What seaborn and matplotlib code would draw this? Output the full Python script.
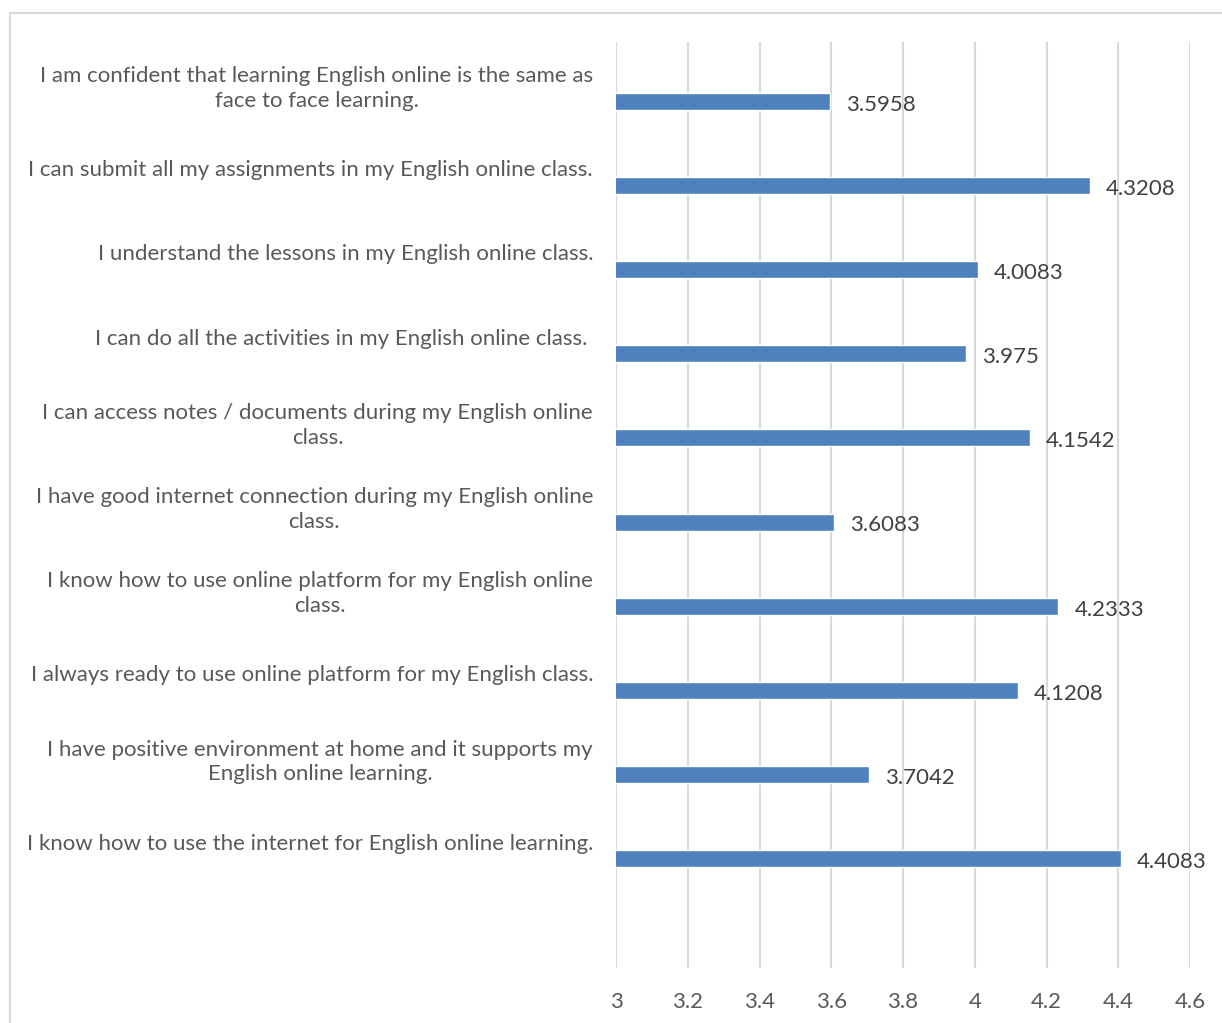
import matplotlib
matplotlib.use("Agg")
import matplotlib.pyplot as plt
import seaborn as sns
import pandas as pd
from matplotlib.patches import Rectangle

statements = [
    "I am confident that learning English online is the same as\nface to face learning.",
    "I can submit all my assignments in my English online class.",
    "I understand the lessons in my English online class.",
    "I can do all the activities in my English online class. ",
    "I can access notes / documents during my English online\nclass.",
    "I have good internet connection during my English online\nclass.",
    "I know how to use online platform for my English online\nclass.",
    "I always ready to use online platform for my English class.",
    "I have positive environment at home and it supports my\nEnglish online learning.",
    "I know how to use the internet for English online learning.",
]
means = [3.5958, 4.3208, 4.0083, 3.975, 4.1542, 3.6083, 4.2333, 4.1208, 3.7042, 4.4083]
blank_category = " "
x_ticks = [3, 3.2, 3.4, 3.6, 3.8, 4, 4.2, 4.4, 4.6]
x_tick_labels = ["3", "3.2", "3.4", "3.6", "3.8", "4", "4.2", "4.4", "4.6"]

sns.set_theme(style="white")
plt.rcParams['font.family'] = ['Lato', 'DejaVu Sans']

df = pd.DataFrame({"statement": statements, "mean": means, "series": "Mean"})
order = statements + [blank_category]

W, H = 1222, 1023
fig = plt.figure(figsize=(W / 100, H / 100), dpi=100)
left, right, top, bottom = 616 / W, 1190 / W, 1 - 42 / H, 1 - 968 / H
ax = fig.add_axes([left, bottom, right - left, top - bottom])

sns.barplot(data=df, y="statement", x="mean", hue="series",
            hue_order=["_s1", "_s2", "Mean"], order=order, orient="h",
            palette={"_s1": "#4F81BD", "_s2": "#4F81BD", "Mean": "#4F81BD"},
            width=0.606, dodge=True, legend=False, saturation=1,
            errorbar=None, ax=ax)

FS = 16
ax.set_xlim(3, 4.6)
ax.set_xticks(x_ticks)
ax.set_xticklabels(x_tick_labels)
ax.set_xlabel("")
ax.set_ylabel("")
ax.xaxis.grid(True, color="#d9d9d9", lw=1.5)
ax.yaxis.grid(False)
for s in ax.spines.values():
    s.set_visible(False)
ax.tick_params(axis="x", length=0, pad=17, labelsize=FS, labelcolor="#595959")
ax.tick_params(axis="y", length=0, pad=16.5, labelsize=FS, labelcolor="#595959")
for t in ax.get_yticklabels():
    t.set_multialignment("center")
    t.set_linespacing(1.3)

for p in ax.patches:
    w = p.get_width()
    if w and w > 0:
        ax.annotate(f"{w:g}", xy=(w, p.get_y() + p.get_height() / 2),
                    xytext=(11.5, -2.5), textcoords="offset points",
                    ha="left", va="center", fontsize=FS, color="#404040")

fig.patches.append(Rectangle((10 / W, -0.1), 1.2, 1 - 12.7 / H + 0.1,
                             transform=fig.transFigure, fill=False,
                             ec="#d9d9d9", lw=1.5))

fig.savefig("out.png", dpi=100, facecolor="white")
